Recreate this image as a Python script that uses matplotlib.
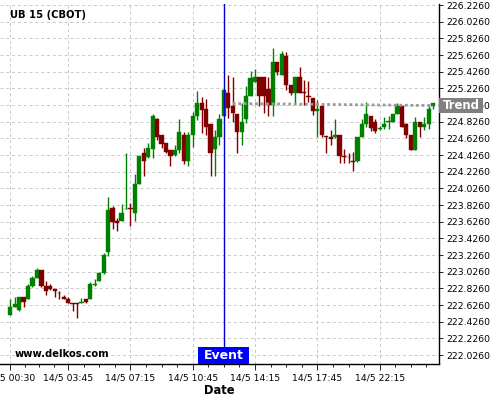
import numpy as np
import matplotlib
matplotlib.use('Agg')
import matplotlib.pyplot as plt
from matplotlib.patches import Rectangle
import matplotlib.transforms as mtransforms

# 15 minute bars, UB 15 (CBOT), 14/5
opens = [222.510, 222.606, 222.566, 222.722, 222.702, 222.854, 222.950, 223.046, 222.854, 222.854,
         222.818, 222.774, 222.722, 222.694, 222.650, 222.650, 222.646, 222.694, 222.702, 222.862,
         222.910, 223.006, 223.266, 223.786, 223.634, 223.634, 223.774, 223.794, 223.734, 224.082,
         224.446, 224.398, 224.494, 224.858, 224.666, 224.570, 224.486, 224.422, 224.486, 224.666,
         224.358, 224.666, 224.894, 225.054, 224.978, 224.798, 224.494, 224.646, 224.894, 225.170,
         225.014, 224.918, 224.706, 224.858, 225.134, 225.308, 225.358, 225.358, 225.218, 225.022,
         225.542, 225.392, 225.614, 225.266, 225.174, 225.358, 225.182, 225.134, 225.106, 224.958,
         225.014, 224.654, 224.646, 224.646, 224.666, 224.414, 224.406, 224.354, 224.358, 224.646,
         224.798, 224.894, 224.826, 224.738, 224.762, 224.826, 224.826, 224.918, 225.014, 224.798,
         224.666, 224.486, 224.826, 224.762, 224.798, 225.014]
highs = [222.694, 222.718, 222.722, 222.722, 222.882, 222.978, 223.070, 223.046, 222.910, 222.882,
         222.818, 222.798, 222.750, 222.722, 222.650, 222.650, 222.714, 222.694, 222.902, 222.942,
         223.018, 223.254, 223.918, 223.818, 223.666, 223.842, 224.446, 223.846, 224.198, 224.414,
         224.506, 224.566, 224.914, 224.870, 224.666, 224.574, 224.486, 224.546, 224.854, 224.698,
         224.702, 224.946, 225.198, 225.122, 225.102, 224.798, 224.726, 224.914, 225.218, 225.386,
         225.358, 224.918, 225.046, 225.254, 225.434, 225.462, 225.358, 225.358, 225.362, 225.706,
         225.542, 225.674, 225.668, 225.266, 225.358, 225.478, 225.326, 225.318, 225.106, 225.086,
         225.014, 224.654, 224.726, 224.854, 224.666, 224.494, 224.456, 224.466, 224.646, 224.854,
         225.068, 224.894, 224.854, 224.774, 224.882, 224.894, 224.918, 225.050, 225.014, 224.814,
         224.666, 224.886, 224.826, 224.882, 225.032, 225.050]
lows = [222.502, 222.602, 222.554, 222.598, 222.694, 222.846, 222.946, 222.846, 222.750, 222.806,
        222.722, 222.694, 222.694, 222.646, 222.558, 222.466, 222.646, 222.646, 222.702, 222.854,
        222.910, 222.998, 223.218, 223.534, 223.510, 223.634, 223.774, 223.574, 223.634, 224.074,
        224.174, 224.386, 224.386, 224.606, 224.506, 224.454, 224.294, 224.414, 224.446, 224.318,
        224.294, 224.526, 224.846, 224.690, 224.666, 224.174, 224.174, 224.542, 224.894, 224.870,
        224.822, 224.446, 224.546, 224.814, 225.134, 225.302, 225.014, 224.930, 224.894, 224.894,
        225.386, 225.386, 225.206, 225.146, 225.054, 225.174, 225.026, 225.066, 224.906, 224.646,
        224.642, 224.446, 224.546, 224.626, 224.330, 224.330, 224.326, 224.238, 224.348, 224.646,
        224.762, 224.720, 224.694, 224.726, 224.734, 224.734, 224.826, 224.918, 224.762, 224.630,
        224.486, 224.486, 224.638, 224.732, 224.734, 224.978]
closes = [222.598, 222.638, 222.722, 222.666, 222.854, 222.950, 223.046, 222.854, 222.798, 222.818,
          222.798, 222.766, 222.702, 222.646, 222.644, 222.644, 222.662, 222.666, 222.874, 222.882,
          223.006, 223.226, 223.766, 223.618, 223.614, 223.726, 223.782, 223.774, 224.078, 224.414,
          224.358, 224.506, 224.894, 224.646, 224.558, 224.462, 224.418, 224.486, 224.702, 224.358,
          224.666, 224.894, 225.054, 224.966, 224.766, 224.454, 224.646, 224.858, 225.206, 224.986,
          224.926, 224.706, 224.822, 225.134, 225.350, 225.358, 225.134, 225.134, 225.022, 225.542,
          225.426, 225.638, 225.266, 225.174, 225.358, 225.174, 225.174, 225.118, 224.958, 224.974,
          224.666, 224.646, 224.614, 224.666, 224.414, 224.398, 224.398, 224.338, 224.646, 224.798,
          224.918, 224.746, 224.714, 224.750, 224.798, 224.838, 224.918, 225.014, 224.762, 224.666,
          224.486, 224.826, 224.762, 224.798, 224.974, 225.050]

tick_idx = [0, 13, 27, 41, 55, 69, 83]
tick_labels = ['14/5 00:30', '14/5 03:45', '14/5 07:15', '14/5 10:45',
               '14/5 14:15', '14/5 17:45', '14/5 22:15']
y_ticks = [222.026, 222.226, 222.426, 222.626, 222.826, 223.026, 223.226, 223.426,
           223.626, 223.826, 224.026, 224.226, 224.426, 224.626, 224.826, 225.026,
           225.226, 225.426, 225.626, 225.826, 226.026, 226.226]

event_idx = 48
trend_idx = [50, 95]
trend_val = [225.044, 225.020]

opens = np.array(opens); closes = np.array(closes)
highs = np.array(highs); lows = np.array(lows)
x = np.arange(len(opens))
up = closes >= opens
cols = np.where(up, '#008000', '#800000')

fig = plt.figure(figsize=(5, 4), dpi=100)
ax = fig.add_axes([0.0, 0.09, 0.8786, 0.9012])

ax.grid(True, color='#c8c8c8', ls=(0, (3, 3)), lw=0.7)
ax.set_axisbelow(True)

ax.vlines(x, lows, highs, colors=cols, lw=1, zorder=2)
body_lo = np.minimum(opens, closes)
body_h = np.maximum(np.abs(closes - opens), 0.008)
ax.bar(x, body_h, bottom=body_lo, width=0.95, color=cols, edgecolor=cols, lw=0.3, zorder=3)

ax.plot(trend_idx, trend_val, color='#9a9a9a', ls=(0, (1, 1)), lw=2, zorder=3)
ax.axvline(event_idx, color='#0000cc', lw=1, zorder=4)

ax.set_xlim(-2.3, 96.4)
ax.set_ylim(221.918, 226.244)

ax.yaxis.tick_right()
ax.set_yticks(y_ticks)
ax.set_yticklabels(['%.4f' % v for v in y_ticks])
ax.set_xticks(tick_idx)
ax.set_xticklabels(tick_labels)
minor = []
for a, b in zip(tick_idx[:-1], tick_idx[1:]):
    minor += [a + (b - a) * k / 4 for k in (1, 2, 3)]
minor += [tick_idx[-1] + 3.5 * k for k in (1, 2, 3)]
ax.set_xticks(minor, minor=True)
ax.tick_params(axis='both', labelsize=6.7, colors='black', width=0.6)
ax.tick_params(axis='x', length=4, pad=3)
ax.tick_params(axis='x', which='minor', length=2)
ax.tick_params(axis='y', length=3, pad=2)

for s in ['left', 'top']:
    ax.spines[s].set_visible(False)
for s in ['right', 'bottom']:
    ax.spines[s].set_color('black')
    ax.spines[s].set_linewidth(1)

ax.set_xlabel('Date', fontsize=8.3, fontweight='bold', labelpad=1)

# event marker
tr = mtransforms.blended_transform_factory(ax.transData, ax.transAxes)
ax.add_patch(Rectangle((event_idx - 5.75, 0), 11.5, 0.048, transform=tr,
                       facecolor='#0000ff', edgecolor='none', zorder=5, clip_on=False))
ax.text(event_idx, 0.024, 'Event', transform=tr, color='white', fontsize=9,
        fontweight='bold', ha='center', va='center', zorder=6)

# trend label
tr2 = mtransforms.blended_transform_factory(ax.transAxes, ax.transData)
ax.add_patch(Rectangle((1.0, trend_val[-1] - 0.0936), 0.099, 0.187, transform=tr2,
                       facecolor='#808080', edgecolor='none', zorder=5, clip_on=False))
ax.text(1.0495, trend_val[-1], 'Trend', transform=tr2, color='white', fontsize=8.4,
        fontweight='bold', ha='center', va='center', zorder=6)

fig.text(0.02, 0.9625, 'UB 15 (CBOT)', fontsize=7.2, fontweight='bold', va='center')
fig.text(0.03, 0.115, 'www.delkos.com', fontsize=7.2, fontweight='bold', va='center')

fig.savefig('out.png', dpi=100)
